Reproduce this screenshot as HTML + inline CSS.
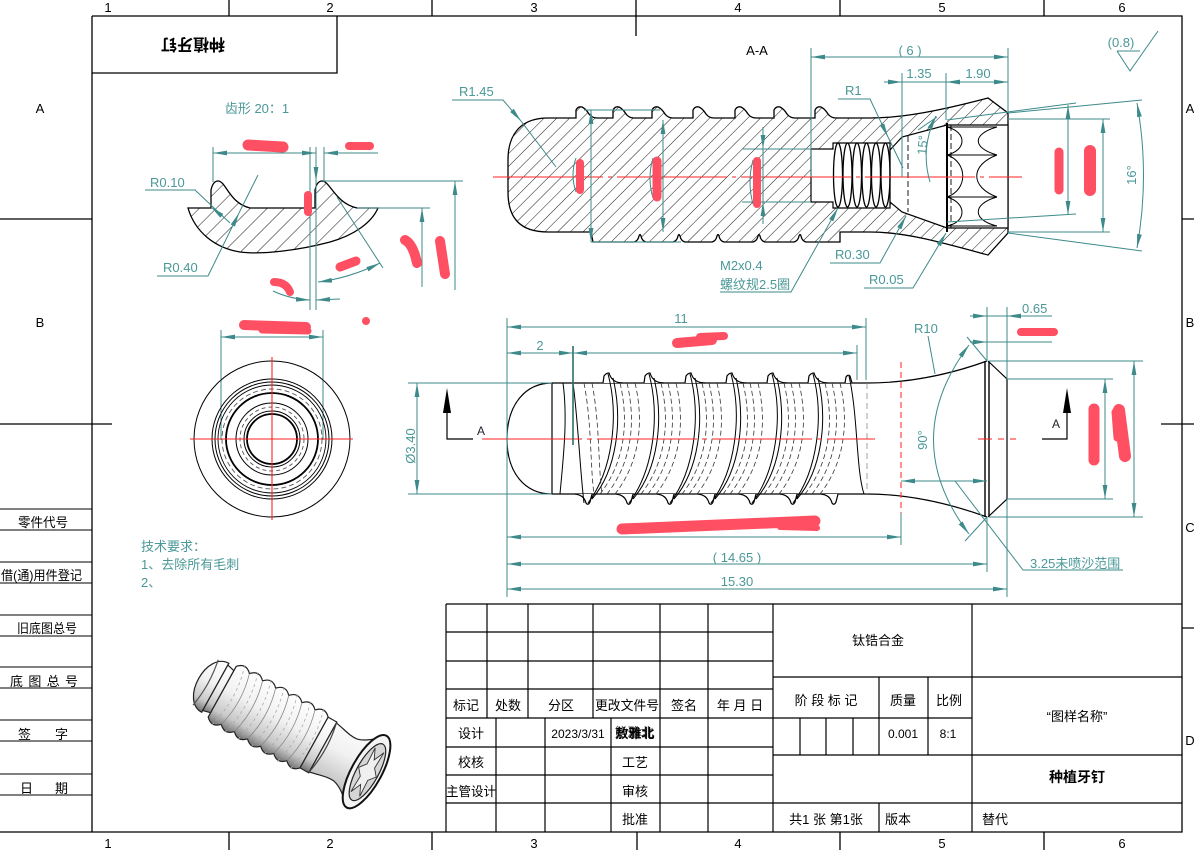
<!DOCTYPE html>
<html><head><meta charset="utf-8"><style>
html,body{margin:0;padding:0;background:#fff;}
svg{display:block;}
text{font-family:"Liberation Sans","Noto Sans CJK SC",sans-serif;}
.t{fill:#4b9898;font-size:13px;}
.k{fill:#000;font-size:13px;}
</style></head><body>
<svg width="1194" height="850" viewBox="0 0 1194 850" xmlns="http://www.w3.org/2000/svg">
<defs>
<marker id="a" markerUnits="userSpaceOnUse" markerWidth="14" markerHeight="6" refX="14" refY="3" orient="auto-start-reverse" viewBox="0 0 14 6"><path d="M0,0.6 L14,3 L0,5.4 Z" fill="#3e8a8a"/></marker>
<pattern id="h1" width="9" height="9" patternUnits="userSpaceOnUse" patternTransform="rotate(45)"><line x1="0" y1="0" x2="0" y2="9" stroke="#000" stroke-width="0.9"/></pattern>
<pattern id="h2" width="12" height="12" patternUnits="userSpaceOnUse" patternTransform="rotate(45)"><line x1="0" y1="0" x2="0" y2="12" stroke="#000" stroke-width="0.9"/></pattern>
<linearGradient id="gm" x1="0" y1="0" x2="0" y2="1"><stop offset="0" stop-color="#ffffff"/><stop offset="0.45" stop-color="#f1f1f1"/><stop offset="0.8" stop-color="#c8c8c8"/><stop offset="1" stop-color="#727272"/></linearGradient>
</defs>

<!-- ===== FRAME ===== -->
<g stroke="#000" stroke-width="1.3" fill="none">
<path d="M92,16 H1182 V832 H0"/>
<path d="M92,16 V832"/>
<path d="M92,73 H337 V16"/>
<path d="M229,0V16 M432,0V16 M636,0V36 M840,0V16 M1044,0V16"/>
<path d="M229,832V850 M432,832V850 M637,832V850 M840,832V850 M1044,832V850"/>
<path d="M0,219H92 M0,424H112 M1182,219H1194 M1161,424H1194 M1182,628H1194"/>
<path d="M0,509H92 M0,530H92 M0,562H92 M0,583H92 M0,615H92 M0,636H92 M0,667H92 M0,688H92 M0,720H92 M0,741H92 M0,774H92 M0,795H92" stroke-width="1"/>
</g>
<g class="k" font-size="12" text-anchor="middle">
<text x="108" y="12">1</text><text x="330" y="12">2</text><text x="534" y="12">3</text><text x="738" y="12">4</text><text x="942" y="12">5</text><text x="1122" y="12">6</text>
<text x="108" y="848">1</text><text x="330" y="848">2</text><text x="534" y="848">3</text><text x="738" y="848">4</text><text x="942" y="848">5</text><text x="1122" y="848">6</text>
<text x="40" y="113">A</text><text x="40" y="327">B</text>
<text x="1190" y="113">A</text><text x="1190" y="327">B</text><text x="1190" y="532">C</text><text x="1190" y="745">D</text>
</g>
<g class="k" font-size="13">
<text x="18" y="527" textLength="50" lengthAdjust="spacingAndGlyphs">零件代号</text>
<text x="1" y="580" textLength="81" lengthAdjust="spacingAndGlyphs">借(通)用件登记</text>
<text x="17" y="633" textLength="60" lengthAdjust="spacingAndGlyphs">旧底图总号</text>
<text x="10" y="686" textLength="68" lengthAdjust="spacing">底图总号</text>
<text x="18" y="739">签</text><text x="55" y="739">字</text>
<text x="20" y="793">日</text><text x="55" y="793">期</text>
</g>
<text x="193" y="51" transform="rotate(180 193 45)" text-anchor="middle" font-size="16" font-weight="bold" fill="#000">种植牙钉</text>

<!-- ===== TITLE BLOCK ===== -->
<g stroke="#000" stroke-width="1.2" fill="none">
<path d="M446,604 H1182 M446,604 V832 M446,632 H773 M446,661 H773 M446,689 H773 M446,718 H773 M446,747 H773 M446,775 H773 M446,803 H1182"/>
<path d="M773,604 V832 M972,604 V832 M773,677 H1182 M773,718 H972 M773,755 H1182"/>
<path d="M487,604V718 M528,604V718 M593,604V718 M660,604V718 M708,604V718"/>
<path d="M496,718V832 M545,718V832 M611,718V832 M660,718V832 M708,718V832"/>
<path d="M800,718V755 M826,718V755 M853,718V755 M879,677V755 M928,677V755 M879,803V832"/>
</g>
<g class="k" font-size="13" text-anchor="middle">
<text x="466" y="710">标记</text><text x="508" y="710">处数</text><text x="561" y="710">分区</text><text x="627" y="710" textLength="64" lengthAdjust="spacingAndGlyphs">更改文件号</text><text x="684" y="710">签名</text><text x="740" y="710">年 月 日</text>
<text x="471" y="738">设计</text><text x="578" y="738" font-size="12">2023/3/31</text>
<text x="635" y="738" font-weight="bold">敖雅北</text><text x="634" y="737" opacity="0.7">熊雅北</text>
<text x="471" y="767">校核</text><text x="635" y="767">工艺</text>
<text x="471" y="796" textLength="50" lengthAdjust="spacingAndGlyphs">主管设计</text><text x="635" y="796">审核</text>
<text x="635" y="824">批准</text>
<text x="878" y="645">钛锆合金</text>
<text x="826" y="705">阶 段 标 记</text><text x="903" y="705">质量</text><text x="949" y="705">比例</text>
<text x="903" y="738" font-size="12">0.001</text><text x="948" y="738" font-size="12">8:1</text>
<text x="826" y="824">共1 张  第1张</text><text x="898" y="824">版本</text>
<text x="1077" y="721">“图样名称”</text>
<text x="1077" y="782" font-weight="bold" font-size="14">种植牙钉</text>
<text x="995" y="824">替代</text>
</g>

<!-- ===== DETAIL 齿形 ===== -->
<text x="257" y="113" class="t" font-size="14" text-anchor="middle">齿形 20：1</text>
<path d="M188,208 L211,208 L211,190 Q213,181 218,181 C226,181 229,203 250,208 L315,208 L315,190 Q317,181 322,181 C330,181 335,203 357,208 L378,208 C372,222 355,235 330,242 C300,250 262,255 240,252 C215,248 195,232 188,208 Z" fill="url(#h2)" stroke="#000" stroke-width="1.3"/>
<g stroke="#3e8a8a" stroke-width="1" fill="none">
<path d="M213,147V182 M310,147V310 M316,147V310 M324,147V182"/>
<path d="M213,153H316" marker-start="url(#a)" marker-end="url(#a)"/>
<path d="M324,153H378" marker-start="url(#a)"/>
<path d="M316,160V181" marker-end="url(#a)"/>
<path d="M324,181H463 M357,208H430"/>
<path d="M422,287V208" marker-end="url(#a)"/>
<path d="M455,290V181" marker-end="url(#a)"/>
<path d="M337,197 L383,268"/>
<path d="M318,282 Q350,278 380,263" marker-start="url(#a)" marker-end="url(#a)"/>
<path d="M273,291 Q290,299 310,300" marker-end="url(#a)"/>
<path d="M340,299 L316,300" marker-end="url(#a)"/>
<path d="M145,190H195 L213,207" /><path d="M230,223 L213,207"/>
<path d="M157,276H208 L239,213" marker-end="url(#a)"/><path d="M239,213 L258,175"/>
<path d="M221,330V440 M323,330V440"/>
<path d="M221,337H323" marker-start="url(#a)" marker-end="url(#a)"/>
</g>
<path d="M222,216 L211,207" stroke="#3e8a8a" marker-end="url(#a)"/>
<text x="150" y="187" class="t">R0.10</text>
<text x="163" y="272" class="t">R0.40</text>

<!-- ===== END VIEW ===== -->
<g fill="none" stroke="#000">
<circle cx="272" cy="439" r="78" stroke-width="1"/>
<circle cx="272" cy="439" r="60" stroke-width="1"/>
<circle cx="272" cy="439" r="57" stroke-width="1"/>
<circle cx="272" cy="439" r="54" stroke-width="0.9"/>
<circle cx="272" cy="439" r="50" stroke="#555" stroke-dasharray="5 3" stroke-width="0.9"/>
<circle cx="272" cy="439" r="46" stroke-width="1.8"/>
<circle cx="272" cy="439" r="36" stroke-width="1"/>
<circle cx="272" cy="439" r="32" stroke="#555" stroke-dasharray="4 3" stroke-width="0.9"/>
<circle cx="272" cy="439" r="28" stroke-width="1"/>
<circle cx="272" cy="439" r="25" stroke-width="1.8"/>
</g>
<path d="M190,439H353 M272,357V520" stroke="#f22" stroke-width="1.1"/>

<!-- tech text -->
<g class="t" font-size="14" fill="#4e99a4">
<text x="141" y="551">技术要求：</text>
<text x="141" y="569">1、去除所有毛刺</text>
<text x="141" y="587">2、</text>
</g>

<!-- ===== 3D VIEW ===== -->
<g transform="translate(203,681) rotate(29)" stroke="#222" stroke-width="1.2">
<path d="M14,-28 C2,-28 -5,-15 -5,0 C-5,15 2,28 14,28 Z" fill="url(#gm)"/>
<path d="M3,-26 Q8,0 3,26" fill="none" stroke="#555"/>
<path d="M14,-26 L22,-24 L22,24 L14,26 Z" fill="url(#gm)"/>
<path d="M22,-29 Q29.5,-37 37,-29 Q44.5,-37 52,-29 Q59.5,-37 67,-29 Q74.5,-37 82,-29 Q89.5,-37 97,-29 Q104.5,-37 112,-29 Q119.5,-37 127,-29 L127,29 Q119.5,37 112,29 Q104.5,37 97,29 Q89.5,37 82,29 Q74.5,37 67,29 Q59.5,37 52,29 Q44.5,37 37,29 Q29.5,37 22,29 Z" fill="url(#gm)"/>
<g fill="none" stroke="#888" stroke-width="0.8">
<path d="M37,-29 Q45,0 37,29 M52,-29 Q60,0 52,29 M67,-29 Q75,0 67,29 M82,-29 Q90,0 82,29 M97,-29 Q105,0 97,29 M112,-29 Q120,0 112,29"/>
<path d="M29,-34 Q39,0 29,34 M44,-34 Q54,0 44,34 M59,-34 Q69,0 59,34 M74,-34 Q84,0 74,34 M89,-34 Q99,0 89,34 M104,-34 Q114,0 104,34 M119,-34 Q129,0 119,34" stroke-dasharray="3 3" stroke="#aaa"/>
</g>
<path d="M127,-29 L137,-29 L137,29 L127,29 Z" fill="url(#gm)"/>
<path d="M137,-28 C148,-26 155,-23 163,-24 C172,-26 180,-34 187,-41 L187,41 C180,34 172,26 163,24 C155,23 148,26 137,28 Z" fill="url(#gm)"/>
<path d="M137,-28 Q143,0 137,28" fill="none" stroke="#444"/>
<ellipse cx="187" cy="0" rx="15" ry="41" fill="#f4f4f4" stroke="#111" stroke-width="2"/>
<ellipse cx="188" cy="0" rx="11" ry="32" fill="#d6d6d6" stroke="#222"/>
<polygon points="198,0 192.3,7 193,25 188,14 183,25 183.7,7 178,0 183.7,-7 183,-25 188,-14 193,-25 192.3,-7" fill="#f0f0f0" stroke="#333" stroke-width="0.9"/>
</g>

<!-- ===== SECTION A-A ===== -->
<text x="757" y="55" class="k" font-size="12" text-anchor="middle">A-A</text>
<path d="M548,118 L576,118 L576,110 Q578,106 582,107 Q586,109 589,114 Q592,118 597,118 L613,118 L613,110 Q615,106 619,107 Q623,109 626,114 Q629,118 634,118 L652,118 L652,110 Q654,106 658,107 Q662,109 665,114 Q668,118 673,118 L693,118 L693,110 Q695,106 699,107 Q703,109 706,114 Q709,118 714,118 L735,118 L735,110 Q737,106 741,107 Q745,109 748,114 Q751,118 756,118 L774,118 L774,110 Q776,106 780,107 Q784,109 787,114 Q790,118 795,118 L815,118 L815,110 Q817,106 821,107 Q825,109 828,114 Q831,118 836,118 L870,118 C900,118 935,112 988,98 L1008,113 L1008,233 L988,255 C940,242 905,232 870,232 L840,232 L840,242 L806,242 Q802,241 801,236 Q800,233 799,236 Q798,241 794,242 L765,242 Q761,241 760,236 Q759,233 758,236 Q757,241 753,242 L724,242 Q720,241 719,236 Q718,233 717,236 Q716,241 712,242 L685,242 Q681,241 680,236 Q679,233 678,236 Q677,241 673,242 L646,242 Q642,241 641,236 Q640,233 639,236 Q638,241 634,242 L593,242 L591,232 L548,232 C520,232 508,218 508,192 L508,160 C508,135 520,118 548,118 Z" fill="url(#h1)" stroke="#000" stroke-width="1.3"/>
<path d="M811,149 L833,149 L833,143 L890,143 L890,150 L902,137 L947,125 L1008,125 L1008,228 L947,228 L902,212 L890,202 L890,208 L833,208 L833,202 L811,202 Z" fill="#fff" stroke="#000" stroke-width="1.2"/>
<g fill="none" stroke="#000" stroke-width="1.3">
<ellipse cx="838" cy="175" rx="4.5" ry="32"/><ellipse cx="847.5" cy="175" rx="4.5" ry="32"/><ellipse cx="857" cy="175" rx="4.5" ry="32"/><ellipse cx="866.5" cy="175" rx="4.5" ry="32"/><ellipse cx="876" cy="175" rx="4.5" ry="32"/><ellipse cx="885.5" cy="175" rx="4.5" ry="32"/>
<path d="M890,150V202"/>
<path d="M947,123V232" stroke-width="2"/>
<path d="M951,125V228 M908,136V212" stroke-dasharray="6 3" stroke-width="0.9"/>
<path d="M947,127H997 M947,226H997 M947,155H997 M947,197H997" stroke-width="1"/>
<path d="M947,127 C967,132 967,150 947,155 M947,155 C968,162 968,190 947,197 M947,197 C967,203 967,222 947,226" stroke-width="1"/>
<path d="M997,127 C972,134 972,148 997,155 M997,155 C970,165 970,187 997,197 M997,197 C972,204 972,220 997,226" stroke-width="1"/>
</g>
<path d="M493,177 H1022" stroke="#f22" stroke-width="1.1" stroke-dasharray="110 5 4 5"/>
<g stroke="#3e8a8a" stroke-width="1" fill="none">
<path d="M811,48V177 M1008,48V113 M902,73V177 M946,73V120"/>
<path d="M811,57H1008" marker-start="url(#a)" marker-end="url(#a)"/>
<path d="M884,82H1008"/>
<path d="M884,82H902" marker-end="url(#a)"/>
<path d="M946,82H1008" marker-start="url(#a)" marker-end="url(#a)"/>
<path d="M838,99H870 L888,137" marker-end="url(#a)"/><path d="M888,137 L903,168"/>
<path d="M452,100H503 L521,121" marker-end="url(#a)"/><path d="M521,121 L556,167"/>
<path d="M830,263H880 L906,216" marker-end="url(#a)"/>
<path d="M864,288H913 L946,233" marker-end="url(#a)"/>
<path d="M720,292H791 L838,208" marker-end="url(#a)"/>
<path d="M591,110V242" marker-start="url(#a)" marker-end="url(#a)"/>
<path d="M584,110H660 M591,242H681"/>
<path d="M663,120V232" marker-start="url(#a)" marker-end="url(#a)"/>
<path d="M742,149H811 M742,202H811"/>
<path d="M763,127V149" marker-end="url(#a)"/><path d="M763,224V202" marker-end="url(#a)"/><path d="M763,149V202"/>
<path d="M947,120 L1076,103 M947,222 L1076,214"/>
<path d="M1068,105V215" marker-start="url(#a)" marker-end="url(#a)"/>
<path d="M1008,119H1110 M1008,232H1110"/>
<path d="M1103,119V232" marker-start="url(#a)" marker-end="url(#a)"/>
<path d="M1008,113 L1142,100 M1008,233 L1142,251"/>
<path d="M1137,103 Q1150,175 1137,248" marker-start="url(#a)" marker-end="url(#a)"/>
<path d="M936,116 Q920,148 930,182" marker-start="url(#a)"/>
<path d="M918,130 L937,117"/>
<path d="M1117,51H1140 M1117,51 L1130,71 L1158,31"/>
<path d="M576,158 Q570,175 576,192 M653,158 Q647,178 653,198 M753,160 Q747,182 753,204"/>
</g>
<g class="t">
<text x="910" y="55" text-anchor="middle">( 6 )</text>
<text x="919" y="78" text-anchor="middle">1.35</text>
<text x="978" y="78" text-anchor="middle">1.90</text>
<text x="845" y="95">R1</text>
<text x="459" y="96">R1.45</text>
<text x="720" y="270">M2x0.4</text>
<text x="720" y="289">螺纹规2.5圈</text>
<text x="835" y="259">R0.30</text>
<text x="869" y="284">R0.05</text>
<text x="1131" y="180" transform="rotate(-90 1131 175)" text-anchor="middle">16°</text>
<text x="922" y="150" transform="rotate(-85 922 145)" text-anchor="middle">15°</text>
<text x="1121" y="47" text-anchor="middle">(0.8)</text>
</g>

<!-- ===== MAIN SIDE VIEW ===== -->
<g fill="none" stroke="#000" stroke-width="1.2">
<path d="M552,383 C525,383 507,405 507,439 C507,473 525,494 552,494"/>
<path d="M552,383V494"/>
<path d="M552,383H867 M552,494H867"/>
<path d="M867,383 C900,383 940,378 987,361 M867,494 C900,494 940,500 987,517"/>
<path d="M985,361V517 M989,361V517" stroke-width="1.4"/>
<path d="M988,361 L1007,379 L1007,499 L988,517"/>
<g fill="#fff">
<path d="M603,383 L604,376 Q606,373 609,373 Q612,383 623,383"/>
<path d="M644,383 L645,376 Q647,373 650,373 Q653,383 664,383"/>
<path d="M685,383 L686,376 Q688,373 691,373 Q694,383 705,383"/>
<path d="M726,383 L727,376 Q729,373 732,373 Q735,383 746,383"/>
<path d="M767,383 L768,376 Q770,373 773,373 Q776,383 787,383"/>
<path d="M808,383 L809,376 Q811,373 814,373 Q817,383 828,383"/>
<path d="M845,383 L846,377 Q848,374 850,376 L852,383"/>
<path d="M575,494 Q584,495 586,503 Q588,506 590,502 L592,494"/>
<path d="M616,494 Q625,495 627,503 Q629,506 631,502 L633,494"/>
<path d="M657,494 Q666,495 668,503 Q670,506 672,502 L674,494"/>
<path d="M698,494 Q707,495 709,503 Q711,506 713,502 L715,494"/>
<path d="M739,494 Q748,495 750,503 Q752,506 754,502 L756,494"/>
<path d="M780,494 Q789,495 791,503 Q793,506 795,502 L797,494"/>
<path d="M821,494 Q830,495 832,503 Q834,506 836,502 L838,494"/>
</g>
<g stroke-width="1">
<path d="M563,383 C568,420 563,460 560,494 M573,383 C578,420 580,470 584,503"/>
<path d="M608,374 C619,415 613,470 588,503 M613,378 C623,420 617,470 592,499"/>
<path d="M649,374 C660,415 654,470 629,503 M654,378 C664,420 658,470 633,499"/>
<path d="M690,374 C701,415 695,470 670,503 M695,378 C705,420 699,470 674,499"/>
<path d="M731,374 C742,415 736,470 711,503 M736,378 C746,420 740,470 715,499"/>
<path d="M772,374 C783,415 777,470 752,503 M777,378 C787,420 781,470 756,499"/>
<path d="M813,374 C824,415 818,470 793,503 M818,378 C828,420 822,470 797,499"/>
<path d="M849,376 C858,415 856,470 864,494"/>
</g>
<g stroke-width="0.8" stroke-dasharray="5 3" stroke="#333">
<path d="M584,383 C592,425 590,465 594,494 M592,383 C600,425 598,465 602,494"/>
<path d="M620,383 C630,425 623,465 600,494 M627,383 C637,425 630,465 607,494 M635,383 C645,425 638,465 615,494"/>
<path d="M661,383 C671,425 664,465 641,494 M668,383 C678,425 671,465 648,494 M676,383 C686,425 679,465 656,494"/>
<path d="M702,383 C712,425 705,465 682,494 M709,383 C719,425 712,465 689,494 M717,383 C727,425 720,465 697,494"/>
<path d="M743,383 C753,425 746,465 723,494 M750,383 C760,425 753,465 730,494 M758,383 C768,425 761,465 738,494"/>
<path d="M784,383 C794,425 787,465 764,494 M791,383 C801,425 794,465 771,494 M799,383 C809,425 802,465 779,494"/>
<path d="M825,383 C835,425 828,465 805,494 M832,383 C842,425 835,465 812,494 M840,383 C850,425 843,465 820,494"/>
<path d="M867,383V494" stroke="#888" stroke-dasharray="6 4"/>
</g>
</g>
<path d="M482,439 H875" stroke="#f22" stroke-width="1.1" stroke-dasharray="100 5 5 5"/>
<path d="M978,439 H1016" stroke="#f22" stroke-width="1.1" stroke-dasharray="14 6 6 6"/>
<path d="M901,362 V513" stroke="#f33" stroke-width="1.1" stroke-dasharray="6 4"/>
<!-- section arrows -->
<g stroke="#000" stroke-width="1.2" fill="none"><path d="M447,411 V439 H473 M1067,411 V439 H1042"/></g>
<polygon points="447,388 443,413 451,413" fill="#000"/>
<polygon points="1067,388 1063,413 1071,413" fill="#000"/>
<text x="477" y="435" font-size="12" fill="#223">A</text>
<text x="1052" y="428" font-size="12" fill="#223">A</text>
<g stroke="#3e8a8a" stroke-width="1" fill="none">
<path d="M507,318V597 M866,318V380 M857,345V380 M987,307V361 M987,517V572 M1007,307V379 M1007,499V597 M901,513V545"/>
<path d="M573,346V445" stroke="#2b6e6e" stroke-width="1.6"/>
<path d="M507,327H866" marker-start="url(#a)" marker-end="url(#a)"/>
<path d="M507,353H573" marker-start="url(#a)" marker-end="url(#a)"/>
<path d="M573,353H857" marker-start="url(#a)" marker-end="url(#a)"/>
<path d="M408,383H552 M408,494H552"/>
<path d="M417,383V494" marker-start="url(#a)" marker-end="url(#a)"/>
<path d="M507,537H901" marker-start="url(#a)" marker-end="url(#a)"/>
<path d="M507,564H987" marker-start="url(#a)" marker-end="url(#a)"/>
<path d="M507,589H1007" marker-start="url(#a)" marker-end="url(#a)"/>
<path d="M901,481H987" marker-start="url(#a)" marker-end="url(#a)"/>
<path d="M987,316H1052"/><path d="M970,316H987" marker-end="url(#a)"/><path d="M1024,316H1007" marker-end="url(#a)"/>
<path d="M985,342H1052"/><path d="M970,342H987" marker-end="url(#a)"/>
<path d="M1007,379H1113 M1007,499H1113 M989,361H1143 M989,517H1143"/>
<path d="M1105,379V499" marker-start="url(#a)" marker-end="url(#a)"/>
<path d="M1134,361V517" marker-start="url(#a)" marker-end="url(#a)"/>
<path d="M928,336 L935,374"/>
<path d="M967,337 L987,361 M987,517 L965,541"/>
<path d="M969,345 Q898,440 969,534" marker-start="url(#a)" marker-end="url(#a)"/>
<path d="M955,481 L1023,570 H1123"/>
</g>
<g class="t">
<text x="681" y="323" text-anchor="middle">11</text>
<text x="540" y="350" text-anchor="middle">2</text>
<text x="737" y="562" text-anchor="middle">( 14.65 )</text>
<text x="737" y="586" text-anchor="middle">15.30</text>
<text x="410" y="451" transform="rotate(-90 410 446)" text-anchor="middle">Ø3.40</text>
<text x="914" y="333">R10</text>
<text x="1022" y="313">0.65</text>
<text x="922" y="445" transform="rotate(-90 922 440)" text-anchor="middle">90°</text>
<text x="1030" y="568">3.25未喷沙范围</text>
</g>

<!-- ===== REDACTION MARKS ===== -->
<g stroke="#ff4f63" stroke-linecap="round" fill="none">
<path d="M248,145 L283,147" stroke-width="11"/>
<path d="M349,146 L370,146" stroke-width="8"/>
<path d="M308,195 L308,212" stroke-width="8"/>
<path d="M405,240 Q413,244 417,263" stroke-width="10"/>
<path d="M440,241 L445,274" stroke-width="10"/>
<path d="M340,267 L356,261" stroke-width="9"/>
<path d="M274,282 Q286,282 290,292" stroke-width="8"/>
<path d="M244,325 L306,327" stroke-width="10"/><path d="M262,330 L308,331" stroke-width="7"/>
<path d="M580,163 V190" stroke-width="8"/>
<path d="M657,161 V197" stroke-width="9"/>
<path d="M757,161 V204" stroke-width="8"/>
<path d="M1059,152 V190" stroke-width="9"/>
<path d="M1090,151 V190" stroke-width="12"/>
<path d="M677,343 L712,340" stroke-width="10"/><path d="M700,337 L724,336" stroke-width="8"/>
<path d="M622,529 L815,521" stroke-width="11"/><path d="M780,527 L817,528" stroke-width="6"/>
<path d="M1094,409 V460" stroke-width="11"/>
<path d="M1119,410 L1125,456" stroke-width="12"/><path d="M1115,412 L1117,438" stroke-width="7"/>
<path d="M1021,332 H1054" stroke-width="8"/>
</g>
<circle cx="366" cy="321" r="4" fill="#ff4f63"/>
</svg>
</body></html>
